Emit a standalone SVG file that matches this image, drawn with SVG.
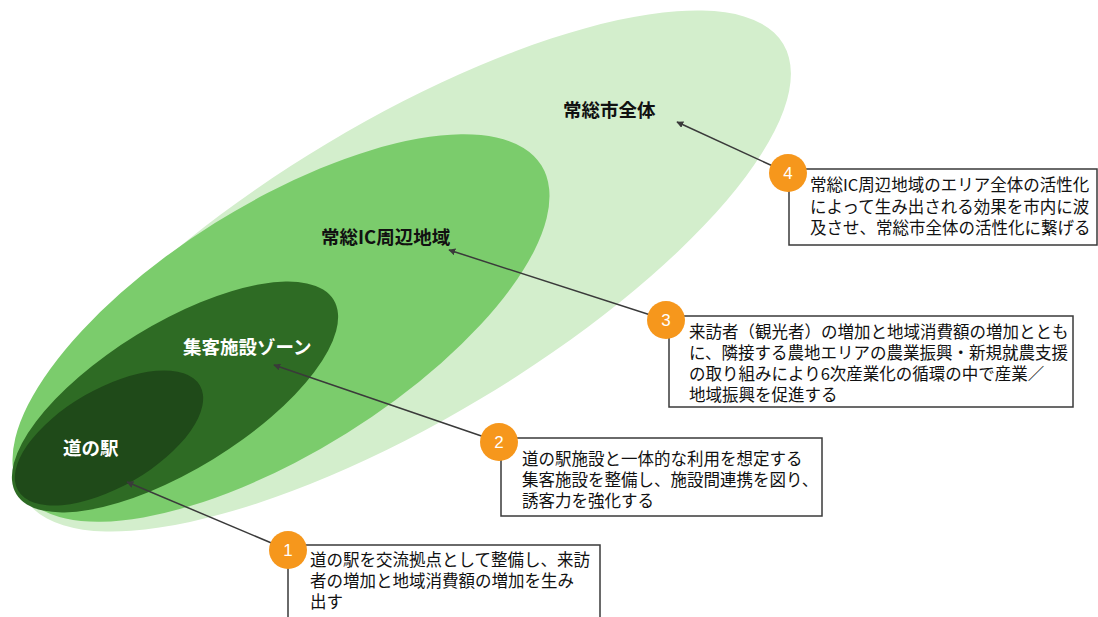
<svg xmlns="http://www.w3.org/2000/svg" width="1098" height="617" viewBox="0 0 1098 617">
<defs>
<marker id="ah" viewBox="0 0 10 10" refX="9" refY="5" markerWidth="7" markerHeight="7" orient="auto" markerUnits="userSpaceOnUse">
<path d="M0,0 L10,5 L0,10 z" fill="#3a3a3a"/>
</marker>
<style>
.lbl{font-family:"Noto Sans CJK JP","Noto Sans",sans-serif;font-weight:bold;font-size:18.5px}
.txt{font-family:"Noto Sans CJK JP","Noto Sans",sans-serif;font-size:16.5px;fill:#111}
.box{fill:#fff;stroke:#3a3a3a;stroke-width:1.5}
.badge{fill:#f6971c}
.num{font-family:"Liberation Sans","Noto Sans",sans-serif;font-size:17px;fill:#fff;text-anchor:middle}
.con{stroke:#3a3a3a;stroke-width:1.5;fill:none;marker-end:url(#ah)}
</style>
</defs>
<rect width="1098" height="617" fill="#fff"/>
<g id="zone-city">
<ellipse cx="404" cy="271" rx="442" ry="149" transform="rotate(-30.9 404 271)" fill="#d3eecc"/>
<text class="lbl" x="563" y="117" fill="#111">常総市全体</text>
</g>
<g id="zone-ic">
<ellipse cx="281" cy="328" rx="307" ry="124" transform="rotate(-32 281 328)" fill="#7bcc6c"/>
<text class="lbl" x="321" y="244" fill="#111">常総IC周辺地域</text>
</g>
<g id="zone-shukyaku">
<ellipse cx="175" cy="397" rx="186" ry="73" transform="rotate(-31.5 175 397)" fill="#2e6b24"/>
<text class="lbl" x="183" y="354" fill="#fff">集客施設ゾーン</text>
</g>
<g id="zone-michinoeki">
<ellipse cx="109" cy="438" rx="105" ry="49" transform="rotate(-30 109 438)" fill="#1f4a19"/>
<text class="lbl" x="63" y="455" fill="#fff">道の駅</text>
</g>
<g id="connectors">
<line class="con" x1="788" y1="173" x2="677" y2="122"/>
<line class="con" x1="666" y1="320" x2="449" y2="250"/>
<line class="con" x1="499" y1="442" x2="274" y2="365"/>
<line class="con" x1="288" y1="550" x2="127" y2="482"/>
</g>
<g id="note4">
<rect class="box" x="789" y="169" width="308" height="76"/>
<circle class="badge" cx="788" cy="173" r="19"/>
<text class="num" x="788" y="179">4</text>
<text class="txt" x="810" y="191">常総IC周辺地域のエリア全体の活性化</text>
<text class="txt" x="810" y="213">によって生み出される効果を市内に波</text>
<text class="txt" x="810" y="234">及させ、常総市全体の活性化に繋げる</text>
</g>
<g id="note3">
<rect class="box" x="669" y="316" width="404" height="91"/>
<circle class="badge" cx="666" cy="320" r="19"/>
<text class="num" x="666" y="326">3</text>
<text class="txt" x="689" y="338">来訪者（観光者）の増加と地域消費額の増加ととも</text>
<text class="txt" x="689" y="359">に、隣接する農地エリアの農業振興・新規就農支援</text>
<text class="txt" x="689" y="380">の取り組みにより6次産業化の循環の中で産業／</text>
<text class="txt" x="689" y="401">地域振興を促進する</text>
</g>
<g id="note2">
<rect class="box" x="501" y="438" width="321" height="78"/>
<circle class="badge" cx="499" cy="442" r="19"/>
<text class="num" x="499" y="448">2</text>
<text class="txt" x="522" y="465">道の駅施設と一体的な利用を想定する</text>
<text class="txt" x="522" y="486">集客施設を整備し、施設間連携を図り、</text>
<text class="txt" x="522" y="507">誘客力を強化する</text>
</g>
<g id="note1">
<rect class="box" x="288" y="545" width="312" height="90"/>
<circle class="badge" cx="288" cy="550" r="19"/>
<text class="num" x="288" y="556">1</text>
<text class="txt" x="310" y="566">道の駅を交流拠点として整備し、来訪</text>
<text class="txt" x="310" y="587">者の増加と地域消費額の増加を生み</text>
<text class="txt" x="310" y="608">出す</text>
</g>
</svg>
